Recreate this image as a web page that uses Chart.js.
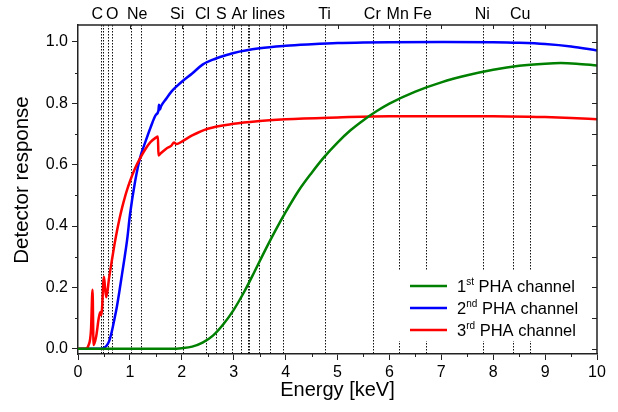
<!DOCTYPE html>
<html>
<head>
<meta charset="utf-8">
<script src="https://cdn.jsdelivr.net/npm/chart.js@4/dist/chart.umd.min.js"></script>
<style>
  body { margin: 0; background: #fff; }
  canvas { display: block; }
</style>
</head>
<body>
<canvas id="chart" width="618" height="412"></canvas>
<script>
// 1st PHA channel
const greenE = [0, 1.8, 2.0, 2.2, 2.4, 2.6, 2.8, 3.0, 3.2, 3.4, 3.6, 3.8, 4.0, 4.25, 4.5, 4.75, 5.0, 5.25, 5.5, 5.75, 6.0, 6.5, 7.0, 7.5, 8.0, 8.5, 9.0, 9.3, 9.6, 10];
const greenV = [0, 0, 0.002, 0.007, 0.02, 0.043, 0.08, 0.127, 0.185, 0.251, 0.319, 0.384, 0.445, 0.515, 0.573, 0.626, 0.672, 0.712, 0.745, 0.774, 0.799, 0.838, 0.868, 0.891, 0.909, 0.922, 0.929, 0.931, 0.929, 0.923];

// 2nd PHA channel
const blueE = [0, 0.45, 0.5, 0.55, 0.6, 0.65, 0.7, 0.75, 0.8, 0.85, 0.9, 0.95, 1.0, 1.1, 1.2, 1.3, 1.4, 1.5, 1.55, 1.56, 1.58, 1.6, 1.7, 1.8, 1.9, 2.0, 2.2, 2.4, 2.6, 2.8, 3.0, 3.5, 4.0, 4.5, 5.0, 5.5, 6.0, 7.0, 8.0, 8.5, 9.0, 9.5, 10];
const blueV = [0, 0, 0.003, 0.01, 0.025, 0.055, 0.095, 0.138, 0.19, 0.245, 0.3, 0.36, 0.435, 0.545, 0.625, 0.675, 0.722, 0.762, 0.776, 0.795, 0.78, 0.79, 0.815, 0.838, 0.855, 0.87, 0.897, 0.926, 0.942, 0.954, 0.964, 0.979, 0.987, 0.992, 0.996, 0.998, 0.999, 1.0, 0.999, 0.997, 0.993, 0.985, 0.972];

// 3rd PHA channel
const redE = [0, 0.15, 0.2, 0.25, 0.28, 0.3, 0.35, 0.4, 0.43, 0.45, 0.5, 0.52, 0.545, 0.6, 0.65, 0.7, 0.75, 0.8, 0.85, 0.9, 0.95, 1.0, 1.1, 1.2, 1.3, 1.4, 1.5, 1.54, 1.55, 1.6, 1.7, 1.8, 1.85, 1.9, 2.0, 2.2, 2.5, 3.0, 3.5, 4.0, 5.0, 6.0, 7.0, 8.0, 9.0, 9.5, 10];
const redV = [0, 0, 0.01, 0.06, 0.192, 0.012, 0.04, 0.1, 0.12, 0.11, 0.235, 0.2, 0.168, 0.232, 0.285, 0.337, 0.383, 0.424, 0.46, 0.492, 0.52, 0.545, 0.588, 0.622, 0.651, 0.674, 0.688, 0.692, 0.63, 0.638, 0.652, 0.662, 0.672, 0.667, 0.675, 0.695, 0.717, 0.733, 0.742, 0.748, 0.754, 0.758, 0.758, 0.758, 0.755, 0.752, 0.748];

// dotted emission lines (keV) and their labels at the top
const lineEnergies = [0.443, 0.474, 0.578, 0.655, 1.021, 1.22, 1.861, 2.015, 2.466, 2.665, 2.794, 2.967, 3.146, 3.268, 3.30, 3.493, 3.692, 3.942, 4.751, 5.676, 6.19, 6.71, 7.80, 8.39, 8.70];
const elemLabels = ['C', 'O', 'Ne', 'Si', 'Cl', 'S', 'Ar', 'lines', 'Ti', 'Cr', 'Mn', 'Fe', 'Ni', 'Cu'];
const elemPos = [0.37, 0.66, 1.14, 1.91, 2.40, 2.76, 3.11, 3.67, 4.75, 5.67, 6.16, 6.64, 7.79, 8.52];

const legendNum = ['1', '2', '3'];
const legendSup = ['st', 'nd', 'rd'];
const legendText = ' PHA channel';
const colors = ['#008000', '#0000ff', '#ff0000'];

function toPoints(xs, ys) {
    return xs.map((x, i) => ({x, y: ys[i]}));
}

const font = 'Liberation Sans, Arial, sans-serif';

const extras = {
    id: 'extras',
    beforeDatasetsDraw(chart) {
        const {ctx, chartArea: a, scales: {x}} = chart;
        ctx.save();
        // dotted lines
        ctx.strokeStyle = '#111';
        ctx.lineWidth = 1;
        ctx.setLineDash([1.5, 1.5]);
        lineEnergies.forEach(e => {
            const px = Math.round(x.getPixelForValue(e)) + 0.5;
            ctx.beginPath();
            ctx.moveTo(px, a.top);
            ctx.lineTo(px, a.bottom);
            ctx.stroke();
        });
        ctx.setLineDash([]);
        // legend box covers the lines
        ctx.fillStyle = '#fff';
        ctx.fillRect(396, 271, 198, 70);
        ctx.restore();
    },
    afterDraw(chart) {
        const {ctx, chartArea: a, scales: {x, y}} = chart;
        ctx.save();
        ctx.strokeStyle = '#222';
        ctx.lineWidth = 1.5;
        // top and right frame
        ctx.beginPath();
        ctx.moveTo(a.left, a.top);
        ctx.lineTo(a.right, a.top);
        ctx.lineTo(a.right, a.bottom);
        ctx.stroke();
        ctx.lineWidth = 1;
        ctx.beginPath();
        for (let v = 0.5; v < 10; v += 1) {
            const px = Math.round(x.getPixelForValue(v)) + 0.5;
            ctx.moveTo(px, a.bottom);
            ctx.lineTo(px, a.bottom + 3);
        }
        for (let v = 1; v < 10; v += 1) {
            const px = Math.round(x.getPixelForValue(v)) + 0.5;
            ctx.moveTo(px, a.top);
            ctx.lineTo(px, a.top + 4);
        }
        for (let v = 0.1; v < 1.05; v += 0.2) {
            const py = Math.round(y.getPixelForValue(v)) + 0.5;
            ctx.moveTo(a.left, py);
            ctx.lineTo(a.left - 3, py);
        }
        for (let i = 0; i <= 10; i++) {
            const py = Math.round(y.getPixelForValue(i / 10)) + 0.5;
            ctx.moveTo(a.right, py);
            ctx.lineTo(a.right - 5, py);
        }
        ctx.stroke();

        ctx.fillStyle = '#000';

        // y axis title
        ctx.save();
        ctx.translate(22, 180);
        ctx.rotate(-Math.PI / 2);
        ctx.font = '20.5px ' + font;
        ctx.textAlign = 'center';
        ctx.textBaseline = 'middle';
        ctx.fillText('Detector response', 0, 0);
        ctx.restore();

        // element labels
        ctx.font = '16px ' + font;
        ctx.textAlign = 'center';
        ctx.textBaseline = 'alphabetic';
        elemLabels.forEach((t, i) => {
            ctx.fillText(t, x.getPixelForValue(elemPos[i]), 19);
        });

        // legend
        ctx.textAlign = 'left';
        legendNum.forEach((n, i) => {
            const cy = 286 + i * 22;
            ctx.strokeStyle = colors[i];
            ctx.lineWidth = 2.5;
            ctx.beginPath();
            ctx.moveTo(410, cy);
            ctx.lineTo(447, cy);
            ctx.stroke();
            let tx = 457;
            ctx.font = '16.5px ' + font;
            ctx.fillText(n, tx, cy + 6);
            tx += ctx.measureText(n).width;
            ctx.font = '10px ' + font;
            ctx.fillText(legendSup[i], tx, cy - 1);
            tx += ctx.measureText(legendSup[i]).width;
            ctx.font = '16.5px ' + font;
            ctx.fillText(legendText, tx, cy + 6);
        });
        ctx.restore();
    }
};

new Chart(document.getElementById('chart'), {
    type: 'line',
    data: {
        datasets: [{
            label: '1st PHA channel',
            data: toPoints(greenE, greenV),
            borderColor: colors[0],
            order: 0
        }, {
            label: '2nd PHA channel',
            data: toPoints(blueE, blueV),
            borderColor: colors[1],
            order: 2
        }, {
            label: '3rd PHA channel',
            data: toPoints(redE, redV),
            borderColor: colors[2],
            order: 1
        }]
    },
    options: {
        responsive: false,
        animation: false,
        devicePixelRatio: 1,
        layout: { padding: { top: 25, right: 21, left: 0, bottom: 0 } },
        elements: {
            point: { radius: 0 },
            line: { borderWidth: 2.5, cubicInterpolationMode: 'monotone', fill: false }
        },
        plugins: { legend: { display: false }, tooltip: { enabled: false } },
        scales: {
            x: {
                type: 'linear',
                min: 0,
                max: 10,
                afterFit: s => { s.height = 58; },
                ticks: { stepSize: 1, color: '#000', padding: 3, font: { family: font, size: 16 }, maxRotation: 0 },
                grid: { drawOnChartArea: false, tickLength: 6, tickColor: '#222', tickWidth: 1 },
                border: { color: '#222', width: 1.5 },
                title: { display: true, text: 'Energy [keV]', color: '#000', font: { family: font, size: 20 }, padding: { top: 0, bottom: 10 } }
            },
            y: {
                min: -0.017,
                max: 1.055,
                afterFit: s => { s.width = 78; },
                ticks: { stepSize: 0.2, includeBounds: false, color: '#000', padding: 4, font: { family: font, size: 16 }, callback: v => v.toFixed(1) },
                grid: { drawOnChartArea: false, tickLength: 6, tickColor: '#222', tickWidth: 1 },
                border: { color: '#222', width: 1.5 },
                title: { display: false }
            }
        }
    },
    plugins: [extras]
});
</script>
</body>
</html>
